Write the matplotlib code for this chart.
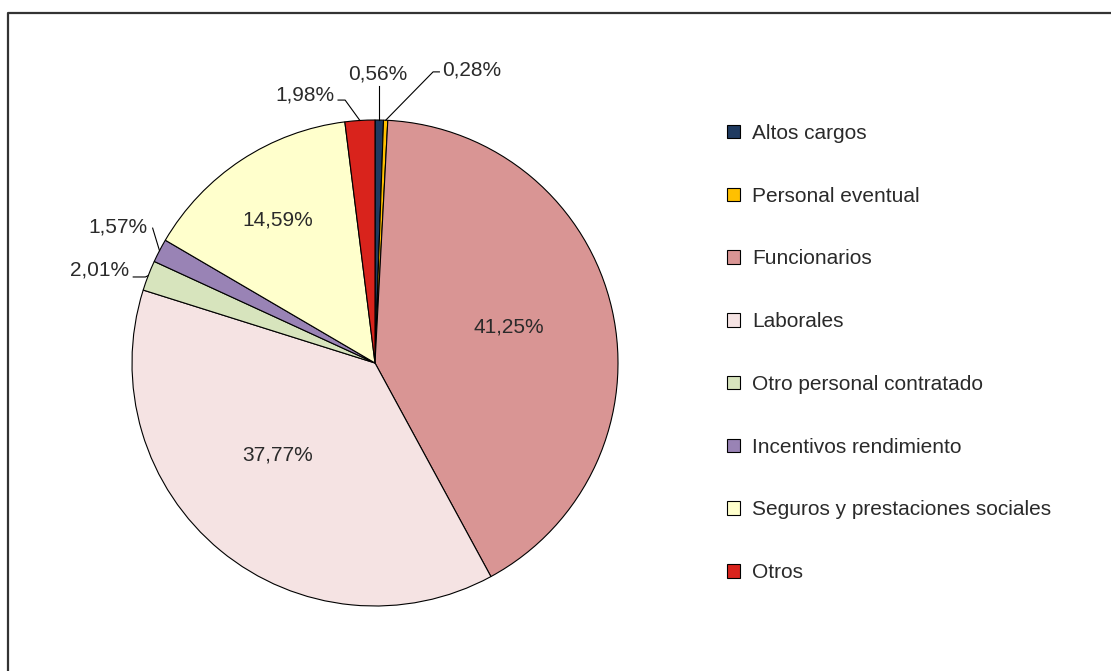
import matplotlib
matplotlib.use("Agg")
import matplotlib.pyplot as plt
from matplotlib.lines import Line2D
import numpy as np

plt.rcParams['font.family'] = ['Liberation Sans', 'DejaVu Sans']

# data
categories = ['Altos cargos', 'Personal eventual', 'Funcionarios', 'Laborales',
              'Otro personal contratado', 'Incentivos rendimiento',
              'Seguros y prestaciones sociales', 'Otros']
values = [0.56, 0.28, 41.25, 37.77, 2.01, 1.57, 14.59, 1.98]
labels = ['0,56%', '0,28%', '41,25%', '37,77%', '2,01%', '1,57%', '14,59%', '1,98%']
colors = ['#1F3A60', '#FFC000', '#D99594', '#F5E3E3', '#D7E4BD', '#9983B5', '#FFFFCC', '#D9231C']

W, H = 1111, 671
FS = 15
fig = plt.figure(figsize=(W / 100, H / 100), dpi=100)

# pie axes: centre (375, 363) px, radius 243 px
cx, cy, r = 375, 363, 243
ax = fig.add_axes([(cx - r) / W, (H - cy - r) / H, 2 * r / W, 2 * r / H])
wedges, _ = ax.pie(values, colors=colors, startangle=90, counterclock=False,
                   wedgeprops=dict(edgecolor='black', linewidth=0.8))
ax.set_xlim(-1, 1)
ax.set_ylim(-1, 1)
ax.set_aspect('equal')
ax.axis('off')

txt = dict(fontsize=FS, color='#2a2a2a')

# inside labels (data coords)
inside = {2: (0.55, 0.15), 3: (-0.40, -0.38), 6: (-0.40, 0.59)}
for i, (x, y) in inside.items():
    ax.text(x, y, labels[i], ha='center', va='center', **txt)

def edge(i):
    w = wedges[i]
    a = np.deg2rad((w.theta1 + w.theta2) / 2)
    return np.cos(a), np.sin(a)

# outside labels with leader lines: (path points after edge, text pos, ha)
outside = {
    0: ([(None, 1.14)], (0.012, 1.19), 'center'),
    1: ([(0.239, 1.198), (0.265, 1.198)], (0.275, 1.205), 'left'),
    7: ([(-0.123, 1.082), (-0.152, 1.082)], (-0.168, 1.103), 'right'),
    5: ([(-0.915, 0.555)], (-0.935, 0.56), 'right'),
    4: ([(-0.945, 0.354), (-0.995, 0.354)], (-1.01, 0.383), 'right'),
}
for i, (pts, (tx, ty), ha) in outside.items():
    ex, ey = edge(i)
    xs, ys = [ex], [ey]
    for px, py in pts:
        xs.append(ex if px is None else px)
        ys.append(py)
    ax.add_line(Line2D(xs, ys, color='black', lw=0.8, clip_on=False))
    ax.text(tx, ty, labels[i], ha=ha, va='center', clip_on=False, **txt)

# legend
leg = fig.legend(wedges, categories, loc='center left',
                 bbox_to_anchor=(727 / W, (H - 353) / H),
                 frameon=False, fontsize=FS, handlelength=0.62, handleheight=0.62,
                 handletextpad=0.6, labelspacing=2.1, borderpad=0, borderaxespad=0)
for t in leg.get_texts():
    t.set_color('#2a2a2a')
for h in leg.legend_handles:
    h.set_linewidth(0.8)

# frame (left and top)
fig.add_artist(Line2D([7.5 / W, 7.5 / W, 1.0], [0, 1 - 13 / H, 1 - 13 / H],
                      transform=fig.transFigure, color='#333333', lw=1.6))

fig.savefig('out.png', dpi=100)
